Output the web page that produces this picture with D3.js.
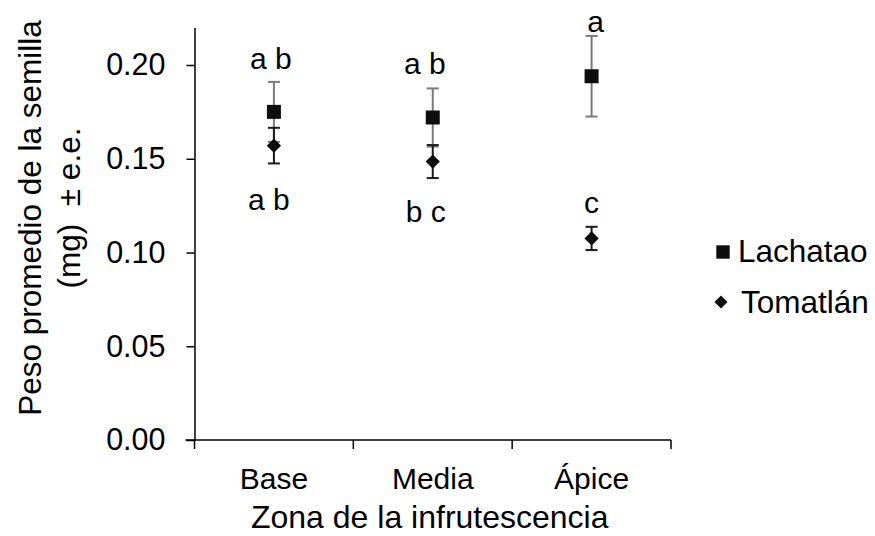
<!DOCTYPE html>
<html>
<head>
<meta charset="utf-8">
<script src="https://cdn.jsdelivr.net/npm/d3@7"></script>
<style>
  html, body { margin: 0; padding: 0; background: #fff; }
  svg { display: block; font-family: "Liberation Sans", Arial, sans-serif; }
  text { white-space: pre; }
</style>
</head>
<body>
<svg id="chart" width="875" height="536"></svg>
<script>
// ---- data ----
const categories = ["Base", "Media", "Ápice"];
const seriesNames = ["Lachatao", "Tomatlán"];
const lachataoMean = [0.175, 0.172, 0.194];
const lachataoErr  = [0.016, 0.0155, 0.0215];
const tomatlanMean = [0.157, 0.1485, 0.1075];
const tomatlanErr  = [0.0095, 0.0088, 0.0062];
const lachataoLetters = ["a b", "a b", "a"];
const lachataoLetterY = [0.198, 0.1952, 0.2176];
const tomatlanLetters = ["a b", "b c", "c"];
const tomatlanLetterY = [0.1227, 0.1163, 0.1211];
const yTicks = [0.00, 0.05, 0.10, 0.15, 0.20];

(function () {
// ---- layout ----
const svg = d3.select("#chart");
const mLeft = 194.5, mRight = 671, mTop = 27.5, mBottom = 440;
const fontSize = 30;

const x = d3.scaleBand().domain(categories).range([mLeft, mRight]).padding(0);
const y = d3.scaleLinear().domain([0, 0.22]).range([mBottom, mTop]);

// y axis
const yAxis = d3.axisLeft(y).tickValues(yTicks).tickFormat(d3.format(".2f"))
  .tickSizeInner(8).tickSizeOuter(0).tickPadding(21);
const gy = svg.append("g").attr("transform", `translate(${mLeft},0)`).call(yAxis);
gy.select(".domain").attr("stroke", "#000").attr("stroke-width", 1.5);
gy.selectAll(".tick line").attr("stroke", "#000").attr("stroke-width", 1.5);
gy.selectAll(".tick text").attr("font-size", 30.5).attr("fill", "#000")
  .attr("font-family", "Liberation Sans, Arial, sans-serif");

// x axis with ticks at band boundaries
const gx = svg.append("g").attr("transform", `translate(0,${mBottom})`);
gx.append("line").attr("x1", mLeft - 9).attr("x2", mRight).attr("y1", 0).attr("y2", 0)
  .attr("stroke", "#000").attr("stroke-width", 1.5);
const boundaries = categories.map(c => x(c)).concat([x(categories[categories.length - 1]) + x.bandwidth()]);
gx.selectAll(".xt").data(boundaries).join("line")
  .attr("x1", d => d).attr("x2", d => d).attr("y1", 0).attr("y2", 9)
  .attr("stroke", "#000").attr("stroke-width", 1.5);
gx.selectAll(".xl").data(categories).join("text")
  .attr("x", d => x(d) + x.bandwidth() / 2).attr("y", 49)
  .attr("text-anchor", "middle").attr("font-size", fontSize).attr("fill", "#000")
  .text(d => d);

// axis titles
svg.append("text").attr("x", (mLeft + mRight) / 2 - 3).attr("y", 528)
  .attr("text-anchor", "middle").attr("font-size", 32).text("Zona de la infrutescencia");
svg.append("text").attr("transform", "translate(41,218) rotate(-90)")
  .attr("text-anchor", "middle").attr("font-size", 31.5).text("Peso promedio de la semilla");
svg.append("text").attr("transform", "translate(80,208) rotate(-90)")
  .attr("text-anchor", "middle").attr("font-size", 31.5).text("(mg)  \u00B1 e.e.");

// error bars + markers
const cx = c => x(c) + x.bandwidth() / 2;
function errorBars(means, errs, color) {
  const g = svg.append("g");
  categories.forEach((c, i) => {
    const lo = y(means[i] - errs[i]), hi = y(means[i] + errs[i]), xc = cx(c);
    g.append("line").attr("x1", xc).attr("x2", xc).attr("y1", lo).attr("y2", hi)
      .attr("stroke", color).attr("stroke-width", 2);
    [lo, hi].forEach(yy => g.append("line").attr("x1", xc - 6).attr("x2", xc + 6)
      .attr("y1", yy).attr("y2", yy).attr("stroke", color).attr("stroke-width", 2));
  });
}
errorBars(lachataoMean, lachataoErr, "#7a7a7a");
errorBars(tomatlanMean, tomatlanErr, "#1a1a1a");

const squareSym = d3.symbol().type(d3.symbolSquare).size(196);
const diamondSym = d3.symbol().type(d3.symbolDiamond2).size(130);
svg.append("g").selectAll("path").data(categories).join("path")
  .attr("d", squareSym)
  .attr("transform", (c, i) => `translate(${cx(c)},${y(lachataoMean[i])})`)
  .attr("fill", "#0d0d0d");
svg.append("g").selectAll("path").data(categories).join("path")
  .attr("d", diamondSym)
  .attr("transform", (c, i) => `translate(${cx(c)},${y(tomatlanMean[i])})`)
  .attr("fill", "#0d0d0d");

// significance letters
const letterDx = [-3, -8, 4];
svg.append("g").selectAll("text").data(categories).join("text")
  .attr("x", (c, i) => cx(c) + letterDx[i]).attr("y", (c, i) => y(lachataoLetterY[i]))
  .attr("text-anchor", "middle").attr("font-size", 30).text((c, i) => lachataoLetters[i]);
const letterDx2 = [-5, -7, 0];
svg.append("g").selectAll("text").data(categories).join("text")
  .attr("x", (c, i) => cx(c) + letterDx2[i]).attr("y", (c, i) => y(tomatlanLetterY[i]))
  .attr("text-anchor", "middle").attr("font-size", 30).text((c, i) => tomatlanLetters[i]);

// legend
const leg = svg.append("g");
leg.append("path").attr("d", d3.symbol().type(d3.symbolSquare).size(180))
  .attr("transform", "translate(723,252)").attr("fill", "#0d0d0d");
leg.append("path").attr("d", d3.symbol().type(d3.symbolDiamond2).size(110))
  .attr("transform", "translate(721,302)").attr("fill", "#0d0d0d");
leg.append("text").attr("x", 738).attr("y", 262).attr("font-size", 31.5).text(seriesNames[0]);
leg.append("text").attr("x", 741).attr("y", 313).attr("font-size", 31.5).text(seriesNames[1]);
})();
</script>
</body>
</html>
